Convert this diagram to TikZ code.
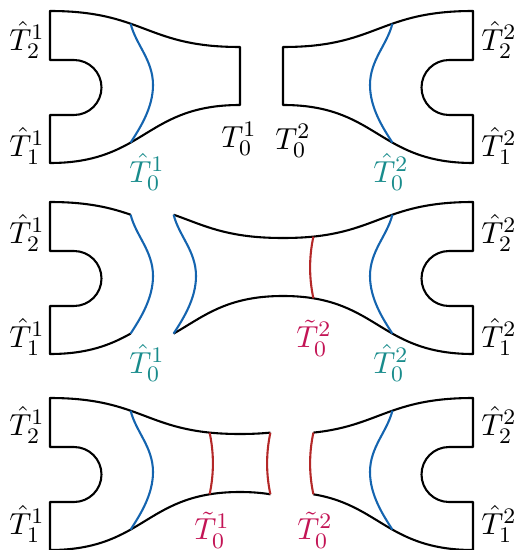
\documentclass[tikz,border=0pt]{standalone}
\usepackage{amsmath}
\definecolor{cutblue}{RGB}{20,100,175}
\definecolor{gluered}{RGB}{180,40,40}
\definecolor{hatteal}{RGB}{25,140,140}
\definecolor{tildered}{RGB}{195,20,85}
% boundary pieces of one half, drawn in the frame of the upper left half
\newcommand{\topA}{.. controls (88,11) and (110.8,16.8) .. (130.6,23.7)}
\newcommand{\topB}{.. controls (154.3,31.9) and (173.6,41.9) .. (209.6,45.6)}
\newcommand{\topC}{.. controls (218.6,46.5) and (228.6,47) .. (240,47)}
\newcommand{\botC}{.. controls (228.6,105) and (218.6,105.8) .. (209.6,107.3)}
\newcommand{\botB}{.. controls (173.6,113.2) and (154.3,129.2) .. (130.6,142.6)}
\newcommand{\botA}{.. controls (110.8,153.7) and (88,163) .. (50,163)}
\newcommand{\capleft}{-- (50,115) -- (74,115) .. controls (89.2,115) and (101.5,102.7) .. (101.5,87.5) .. controls (101.5,72.3) and (89.2,60) .. (74,60) -- (50,60) -- (50,11)}
\newcommand{\bluecut}{(130.6,23.7) .. controls (136,45) and (153,60) .. (153,85) .. controls (153,108) and (140,128) .. (130.6,142.6)}
\newcommand{\redcut}{(209.6,45.6) .. controls (214,66) and (214,87) .. (209.6,107.3)}

\begin{document}
\begin{tikzpicture}[x=0.36pt, y=-0.36pt, line width=0.75pt, line join=round,
    font=\fontsize{11}{13}\selectfont,
    cut/.style={cutblue, line width=0.75pt},
    glue/.style={gluered, line width=0.75pt},
    lbl/.style={inner sep=0pt},
    hatlbl/.style={lbl, text=hatteal},
    tildelbl/.style={lbl, text=tildered}]
  \useasboundingbox (0,0) rectangle (519,550);

  % side labels of the three rows
  \foreach \r/\ya/\yb in {a/40/146, b/233/337, c/425/524} {
    \node[lbl] (ltwo\r) at (27,\ya) {$\hat{T}^1_2$};
    \node[lbl] (lone\r) at (27,\yb) {$\hat{T}^1_1$};
    \node[lbl] (rtwo\r) at (499,\ya) {$\hat{T}^2_2$};
    \node[lbl] (rone\r) at (499,\yb) {$\hat{T}^2_1$};
  }

  % top row: two separate halves
  \draw (240,105) \botC \botB \botA \capleft \topA \topB \topC -- cycle;
  \draw[cut] \bluecut;
  \begin{scope}[shift={(523,0)}, xscale=-1]
    \draw (240,105) \botC \botB \botA \capleft \topA \topB \topC -- cycle;
    \draw[cut] \bluecut;
  \end{scope}
  \node[lbl] (tzeroa) at (239,139) {$T^1_0$};
  \node[lbl] (tzerob) at (293,141) {$T^2_0$};
  \node[hatlbl] (hzeroa) at (147,172) {$\hat{T}^1_0$};
  \node[hatlbl] (hzerob) at (391,172) {$\hat{T}^2_0$};

  % middle row: left cap cut off, rest glued to the right half
  \begin{scope}[shift={(0,191)}]
    \draw (130.6,142.6) \botA \capleft \topA;
    \draw[cut] \bluecut;
  \end{scope}
  \begin{scope}[shift={(43,191)}]
    \draw (130.6,23.7) \topB \topC;
    \draw (240,105) \botC \botB;
    \draw[cut] \bluecut;
  \end{scope}
  \begin{scope}[shift={(523,191)}, xscale=-1]
    \draw (240,105) \botC \botB \botA \capleft \topA \topB \topC;
    \draw[cut] \bluecut;
    \draw[glue] \redcut;
  \end{scope}
  \node[hatlbl] (hzeroc) at (147,363) {$\hat{T}^1_0$};
  \node[hatlbl] (hzerod) at (391,363) {$\hat{T}^2_0$};
  \node[tildelbl] (tildeb) at (314,338) {$\tilde{T}^2_0$};

  % bottom row: neck piece of the right half moved to the left half
  \begin{scope}[shift={(0,387)}]
    \draw (240,105) \botC \botB \botA \capleft \topA \topB \topC;
    \draw[cut] \bluecut;
    \draw[glue] \redcut;
  \end{scope}
  \begin{scope}[shift={(480,387)}, xscale=-1]
    \draw (209.6,45.6) \topC;
    \draw (240,105) \botC;
    \draw[glue] \redcut;
  \end{scope}
  \begin{scope}[shift={(523,387)}, xscale=-1]
    \draw (209.6,107.3) \botB \botA \capleft \topA \topB;
    \draw[cut] \bluecut;
    \draw[glue] \redcut;
  \end{scope}
  \node[tildelbl] (tildec) at (212,530) {$\tilde{T}^1_0$};
  \node[tildelbl] (tilded) at (315,530) {$\tilde{T}^2_0$};
\end{tikzpicture}
\end{document}
